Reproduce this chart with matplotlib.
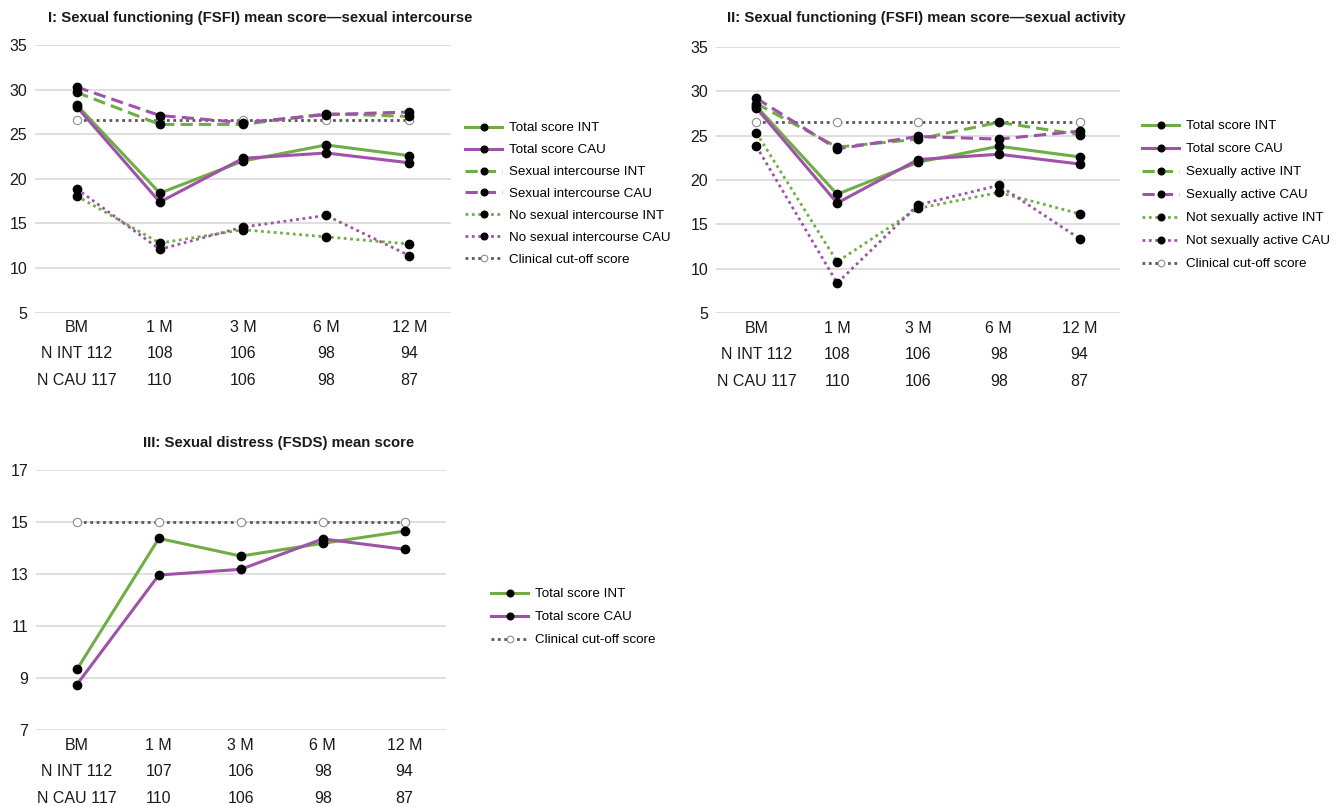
import matplotlib
matplotlib.use("Agg")
import matplotlib.pyplot as plt
from matplotlib.transforms import blended_transform_factory

plt.rcParams['font.family'] = ['Liberation Sans', 'DejaVu Sans']

# time points and sample sizes
timepoints = ['BM', '1 M', '3 M', '6 M', '12 M']
n_int_12 = [112, 108, 106, 98, 94]
n_cau_12 = [117, 110, 106, 98, 87]
n_int_3 = [112, 107, 106, 98, 94]
n_cau_3 = [117, 110, 106, 98, 87]

# panel I: FSFI by sexual intercourse
total_int = [28.3, 18.4, 22.0, 23.8, 22.6]
total_cau = [28.1, 17.4, 22.3, 22.9, 21.8]
inter_int = [29.7, 26.1, 26.1, 27.3, 27.0]
inter_cau = [30.3, 27.1, 26.3, 27.2, 27.5]
no_inter_int = [18.1, 12.8, 14.3, 13.5, 12.7]
no_inter_cau = [18.9, 12.1, 14.6, 15.9, 11.4]
fsfi_cutoff = [26.55, 26.55, 26.55, 26.55, 26.55]

# panel II: FSFI by sexual activity
active_int = [28.6, 23.7, 24.6, 26.5, 25.1]
active_cau = [29.2, 23.5, 24.9, 24.6, 25.5]
not_active_int = [25.3, 10.8, 16.8, 18.6, 16.2]
not_active_cau = [23.8, 8.4, 17.2, 19.4, 13.4]

# panel III: FSDS
fsds_int = [9.33, 14.37, 13.69, 14.18, 14.65]
fsds_cau = [8.75, 12.96, 13.18, 14.35, 13.95]
fsds_cutoff = [15, 15, 15, 15, 15]

GREEN = '#70ad47'
PURPLE = '#9e52a8'
GREY = '#595959'
TXT = '#1a1a1a'

fig = plt.figure(figsize=(13.41, 8.07), dpi=100)

ax1 = fig.add_axes([0.0261, 0.6125, 0.3102, 0.3317])
ax2 = fig.add_axes([0.5339, 0.6118, 0.3013, 0.3303])
ax3 = fig.add_axes([0.0268, 0.0954, 0.3055, 0.3222])


def line(ax, vals, color, style, label, lw=2.2):
    ax.plot(range(len(vals)), vals, color=color, linestyle=style, lw=lw,
            marker='o', markersize=6, markerfacecolor='black',
            markeredgecolor='black', label=label, zorder=3)


def cutoff(ax, vals):
    ax.plot(range(len(vals)), vals, color=GREY, linestyle=(0, (1, 1.3)), lw=2,
            marker='o', markersize=6, markerfacecolor='white',
            markeredgecolor='#8c8c8c', markeredgewidth=0.8,
            label='Clinical cut-off score', zorder=2)


def style_axes(ax, ylim, yticks, n_int, n_cau):
    ax.set_ylim(*ylim)
    ax.set_xlim(-0.5, len(timepoints) - 0.5)
    ax.set_yticks(yticks)
    ax.grid(axis='y', color='#d9d9d9', lw=1.2, zorder=0)
    ax.set_axisbelow(True)
    for s in ax.spines.values():
        s.set_visible(False)
    ax.tick_params(axis='both', length=0, labelcolor=TXT)
    ax.tick_params(axis='y', pad=5.5, labelsize=11.5)
    ax.tick_params(axis='x', pad=5.5, labelsize=11.5)
    ax.set_xticks(range(len(timepoints)))
    ax.set_xticklabels(timepoints)
    tr = blended_transform_factory(ax.transData, ax.transAxes)
    fig_h = ax.get_position().height * 807
    for i in range(len(timepoints)):
        a = f'N INT {n_int[i]}' if i == 0 else str(n_int[i])
        b = f'N CAU {n_cau[i]}' if i == 0 else str(n_cau[i])
        ax.text(i, -41 / fig_h, a, transform=tr, ha='center', va='center',
                fontsize=11.5, color=TXT)
        ax.text(i, -68 / fig_h, b, transform=tr, ha='center', va='center',
                fontsize=11.5, color=TXT)


# panel I
line(ax1, total_int, GREEN, '-', 'Total score INT')
line(ax1, total_cau, PURPLE, '-', 'Total score CAU')
line(ax1, inter_int, GREEN, (0, (4, 2)), 'Sexual intercourse INT')
line(ax1, inter_cau, PURPLE, (0, (4, 2)), 'Sexual intercourse CAU')
line(ax1, no_inter_int, GREEN, (0, (1, 1.3)), 'No sexual intercourse INT', lw=2)
line(ax1, no_inter_cau, PURPLE, (0, (1, 1.3)), 'No sexual intercourse CAU', lw=2)
cutoff(ax1, fsfi_cutoff)
style_axes(ax1, (5, 35), range(5, 36, 5), n_int_12, n_cau_12)

# panel II
line(ax2, total_int, GREEN, '-', 'Total score INT')
line(ax2, total_cau, PURPLE, '-', 'Total score CAU')
line(ax2, active_int, GREEN, (0, (4, 2)), 'Sexually active INT')
line(ax2, active_cau, PURPLE, (0, (4, 2)), 'Sexually active CAU')
line(ax2, not_active_int, GREEN, (0, (1, 1.3)), 'Not sexually active INT', lw=2)
line(ax2, not_active_cau, PURPLE, (0, (1, 1.3)), 'Not sexually active CAU', lw=2)
cutoff(ax2, fsfi_cutoff)
style_axes(ax2, (5, 35), range(5, 36, 5), n_int_12, n_cau_12)

# panel III
line(ax3, fsds_int, GREEN, '-', 'Total score INT')
line(ax3, fsds_cau, PURPLE, '-', 'Total score CAU')
cutoff(ax3, fsds_cutoff)
style_axes(ax3, (7, 17), range(7, 18, 2), n_int_3, n_cau_3)

leg_kw = dict(frameon=False, loc='upper left', fontsize=9.6, handlelength=2.8,
              handletextpad=0.5, borderpad=0, borderaxespad=0, markerscale=0.8)
fig.legend(*ax1.get_legend_handles_labels(), bbox_to_anchor=(465 / 1341, 1 - 122 / 807),
           labelspacing=0.72, **leg_kw)
fig.legend(*ax2.get_legend_handles_labels(), bbox_to_anchor=(1142 / 1341, 1 - 120 / 807),
           labelspacing=0.8, **leg_kw)
fig.legend(*ax3.get_legend_handles_labels(), bbox_to_anchor=(491 / 1341, 1 - 588 / 807),
           labelspacing=0.8, **leg_kw)

fig.text(48 / 1341, 1 - 18 / 807, 'I: Sexual functioning (FSFI) mean score\u2014sexual intercourse',
         fontsize=10.7, fontweight='bold', ha='left', va='center', color=TXT)
fig.text(727 / 1341, 1 - 18 / 807, 'II: Sexual functioning (FSFI) mean score\u2014sexual activity',
         fontsize=10.7, fontweight='bold', ha='left', va='center', color=TXT)
fig.text(143 / 1341, 1 - 443 / 807, 'III: Sexual distress (FSDS) mean score',
         fontsize=10.7, fontweight='bold', ha='left', va='center', color=TXT)

fig.savefig('out.png', dpi=100)
